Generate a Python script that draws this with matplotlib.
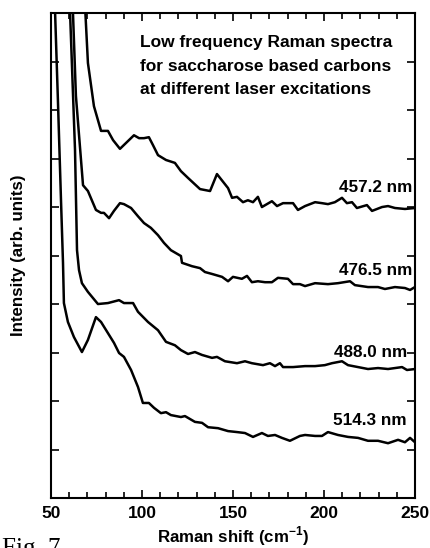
import matplotlib
matplotlib.use('Agg')
import matplotlib.pyplot as plt
import numpy as np
from matplotlib.ticker import MultipleLocator

plt.rcParams['font.family'] = ['Liberation Sans', 'DejaVu Sans']
plt.rcParams['font.weight'] = 'bold'
plt.rcParams['axes.labelweight'] = 'bold'

# spectra (shift in cm^-1, offset intensity in arb. units)
x_4572 = [68.5, 70.3, 73.6, 77.5, 81.3, 84.1, 87.9, 95.6, 98.4, 101.1, 103.8, 106.0, 108.8,
          113.2, 118.1, 121.4, 125.3, 131.9, 137.4, 141.2, 147.3, 149.5, 152.2, 155.5, 158.2,
          161.0, 163.7, 165.9, 171.4, 174.2, 177.5, 183.0, 185.7, 189.6, 195.1, 198.9, 202.2,
          206.0, 209.9, 212.6, 215.4, 218.1, 223.6, 226.4, 231.9, 235.2, 239.0, 244.5, 250.0]
y_4572 = [10.3, 8.97, 8.08, 7.57, 7.57, 7.38, 7.20, 7.48, 7.42, 7.42, 7.44, 7.28, 7.07,
          6.97, 6.91, 6.74, 6.60, 6.37, 6.33, 6.68, 6.39, 6.19, 6.21, 6.10, 6.14,
          6.10, 6.21, 6.00, 6.12, 6.02, 6.08, 6.08, 5.94, 6.02, 6.10, 6.08, 6.06,
          6.10, 6.19, 6.08, 6.10, 5.98, 6.04, 5.92, 6.00, 6.02, 5.98, 5.96, 5.98]

x_4765 = [61.8, 63.7, 67.6, 70.3, 74.7, 77.5, 79.1, 81.9, 84.6, 87.9, 90.1, 94.0, 97.8,
          101.1, 104.9, 108.8, 112.1, 115.9, 121.4, 122.0, 127.5, 131.9, 134.6, 138.5, 144.0,
          147.3, 150.0, 154.9, 157.7, 160.4, 163.7, 167.6, 171.4, 174.7, 180.2, 183.0, 186.8,
          189.6, 195.1, 202.2, 207.7, 214.3, 217.0, 224.2, 229.7, 233.5, 239.0, 244.5, 247.3, 250.0]
y_4765 = [10.3, 8.29, 6.45, 6.33, 5.94, 5.88, 5.88, 5.77, 5.92, 6.08, 6.06, 5.98, 5.81,
          5.67, 5.57, 5.42, 5.26, 5.11, 4.99, 4.85, 4.78, 4.74, 4.66, 4.62, 4.56,
          4.47, 4.56, 4.52, 4.58, 4.45, 4.47, 4.45, 4.45, 4.54, 4.52, 4.41, 4.41,
          4.37, 4.43, 4.41, 4.43, 4.47, 4.39, 4.35, 4.35, 4.31, 4.35, 4.33, 4.29, 4.35]

x_4880 = [60.2, 63.2, 64.3, 65.4, 67.0, 70.3, 75.8, 81.3, 87.4, 90.1, 95.1, 97.8, 103.3,
          108.8, 113.2, 118.1, 121.4, 125.3, 129.1, 133.0, 138.5, 141.2, 145.6, 152.2, 156.6,
          160.4, 166.5, 170.3, 173.1, 175.8, 177.5, 183.0, 189.6, 195.1, 200.5, 204.4, 209.9,
          213.2, 218.7, 224.2, 229.7, 235.2, 242.9, 245.6, 250.0]
y_4880 = [10.3, 7.18, 5.11, 4.70, 4.43, 4.25, 4.00, 4.02, 4.08, 4.02, 4.02, 3.84, 3.63,
          3.46, 3.22, 3.15, 3.05, 2.97, 3.01, 2.95, 2.89, 2.91, 2.82, 2.78, 2.82,
          2.78, 2.74, 2.78, 2.72, 2.78, 2.70, 2.70, 2.72, 2.72, 2.74, 2.78, 2.82,
          2.74, 2.70, 2.66, 2.68, 2.66, 2.70, 2.64, 2.66]

x_5143 = [52.0, 53.8, 55.5, 56.6, 57.1, 59.3, 62.6, 67.0, 70.3, 74.7, 77.5, 81.3, 84.6,
          87.4, 90.1, 94.0, 97.8, 100.5, 103.8, 106.6, 110.4, 113.2, 115.9, 121.4, 123.6,
          129.1, 133.0, 136.3, 141.8, 147.3, 152.2, 156.6, 161.0, 165.9, 169.2, 173.1, 176.9,
          181.3, 186.8, 189.6, 195.1, 198.9, 202.2, 207.7, 213.2, 218.7, 224.2, 229.7, 235.2,
          240.7, 244.5, 247.3, 250.0]
y_5143 = [10.3, 8.21, 6.14, 4.85, 4.02, 3.63, 3.32, 3.01, 3.26, 3.73, 3.63, 3.40, 3.20,
          2.99, 2.91, 2.64, 2.29, 1.96, 1.96, 1.86, 1.75, 1.77, 1.71, 1.67, 1.69,
          1.57, 1.55, 1.46, 1.44, 1.38, 1.36, 1.34, 1.26, 1.34, 1.28, 1.30, 1.24,
          1.18, 1.28, 1.30, 1.28, 1.28, 1.36, 1.30, 1.26, 1.24, 1.18, 1.18, 1.13,
          1.20, 1.15, 1.24, 1.15]

labels = ['457.2 nm', '476.5 nm', '488.0 nm', '514.3 nm']
label_x = [248.5, 248.5, 245.5, 245.5]
label_y = [6.41, 4.70, 3.01, 1.59]

fig = plt.figure(figsize=(4.31, 5.48), dpi=100)
ax = fig.add_axes([0.1183, 0.0912, 0.8445, 0.885])

for xs, ys in [(x_4572, y_4572), (x_4765, y_4765), (x_4880, y_4880), (x_5143, y_5143)]:
    ax.plot(xs, ys, color='black', lw=1.8)

for lab, lx, ly in zip(labels, label_x, label_y):
    ax.text(lx, ly, lab, ha='right', va='center', fontsize=12.3)

ax.text(0.245, 0.955, 'Low frequency Raman spectra\nfor saccharose based carbons\nat different laser excitations',
        transform=ax.transAxes, ha='left', va='top', fontsize=12.5, linespacing=1.72)

ax.set_xlim(50, 250)
ax.set_ylim(0, 10)
ax.xaxis.set_major_locator(MultipleLocator(50))
ax.xaxis.set_minor_locator(MultipleLocator(10))
ax.yaxis.set_major_locator(MultipleLocator(1))
ax.set_yticklabels([])
ax.tick_params(which='both', direction='in', top=True, right=True, width=1.2)
ax.tick_params(which='major', length=6, labelsize=12.5, pad=6)
ax.tick_params(which='minor', length=4)
for s in ax.spines.values():
    s.set_linewidth(1.5)

ax.set_xlabel('Raman shift (cm$^{\\mathregular{-1}}$)', fontsize=12.2, labelpad=2)
ax.set_ylabel('Intensity (arb. units)', fontsize=12.2, labelpad=12)

fig.text(2, 548 - 538, 'Fig. 7', transform=None, family=['Liberation Serif', 'DejaVu Serif'],
         fontweight='normal', fontsize=18, ha='left', va='top')

fig.savefig('out.png', dpi=100)
